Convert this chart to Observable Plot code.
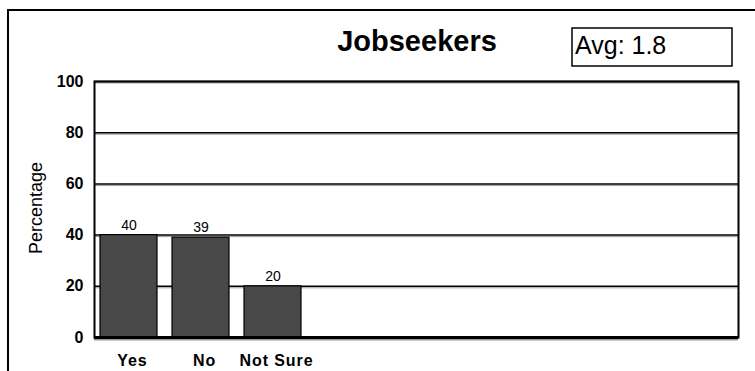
<!DOCTYPE html>
<html>
<head>
<meta charset="utf-8">
<script src="https://cdn.jsdelivr.net/npm/d3@7"></script>
<script src="https://cdn.jsdelivr.net/npm/@observablehq/plot@0.6"></script>
<style>
  html, body { margin: 0; padding: 0; background: #fff; }
  svg { display: block; }
</style>
</head>
<body>
<div id="chart"></div>
<script>
// ---- data ----
const categories = ["Yes", "No", "Not Sure"];
const values = [40, 39, 20];
const emptySlots = 6;            // unused category slots on the x axis
const yTicks = [0, 20, 40, 60, 80, 100];
const titleText = "Jobseekers";
const avgText = "Avg: 1.8";
const yLabelText = "Percentage";

const data = categories.map((c, i) => ({cat: c, value: values[i]}));
const placeholders = d3.range(emptySlots).map(i => "_" + i);
const xDomain = categories.concat(placeholders);

const FONT = "'Liberation Sans', Arial, Helvetica, sans-serif";

const chart = Plot.plot({
  width: 755,
  height: 371,
  marginLeft: 94,
  marginRight: 17,
  marginTop: 81,
  marginBottom: 34,
  style: {fontFamily: FONT, background: "#fff", overflow: "visible"},
  x: {domain: xDomain, paddingInner: 0.21, paddingOuter: 0.07, axis: null},
  y: {domain: [0, 100], axis: null},
  marks: [
    Plot.gridY(yTicks, {stroke: "#999", strokeOpacity: 1, strokeWidth: 1, dy: 1.5}),
    Plot.gridY(yTicks, {stroke: "black", strokeOpacity: 1, strokeWidth: 1.5}),
    Plot.barY(data, {x: "cat", y: "value", fill: "#484848", stroke: "black", strokeWidth: 1.2}),
    Plot.ruleY([0], {stroke: "#999", strokeWidth: 2, dy: 2}),
    Plot.ruleY([0], {stroke: "black", strokeWidth: 3}),
    Plot.frame({stroke: "black", strokeWidth: 2}),
    Plot.axisY(yTicks, {tickSize: 0, tickPadding: 11, fontWeight: "bold", fontSize: 16, label: null}),
    Plot.axisX(categories, {tickSize: 0, tickPadding: 17, fontWeight: "bold", fontSize: 16, label: null, dx: 3.5}),
    Plot.text(data, {x: "cat", y: "value", text: d => String(d.value), lineAnchor: "middle", dy: -10, fontSize: 14, fill: "black"})
  ]
});

document.getElementById("chart").appendChild(chart);

const svg = d3.select(chart);
// slightly wider letter spacing on category labels, as in the reference
svg.selectAll('g[aria-label="x-axis tick label"] text').style("letter-spacing", "0.9px");

// ---- decorations: outer frame, title, average box, y label ----
svg.append("path")
  .attr("d", "M8,371V10H755")
  .attr("fill", "none")
  .attr("stroke", "black")
  .attr("stroke-width", 2);

svg.append("text")
  .attr("x", 417).attr("y", 51)
  .attr("text-anchor", "middle")
  .attr("font-family", FONT)
  .attr("font-weight", "bold")
  .attr("font-size", 29)
  .attr("fill", "black")
  .text(titleText);

svg.append("rect")
  .attr("x", 572).attr("y", 28)
  .attr("width", 160).attr("height", 38)
  .attr("fill", "white")
  .attr("stroke", "black")
  .attr("stroke-width", 1.5);

svg.append("text")
  .attr("x", 575).attr("y", 54)
  .attr("text-anchor", "start")
  .attr("font-family", FONT)
  .attr("font-size", 25)
  .attr("fill", "black")
  .text(avgText);

svg.append("text")
  .attr("transform", "translate(42,208) rotate(-90)")
  .attr("text-anchor", "middle")
  .attr("font-family", FONT)
  .attr("font-size", 18)
  .attr("fill", "black")
  .text(yLabelText);
</script>
</body>
</html>
